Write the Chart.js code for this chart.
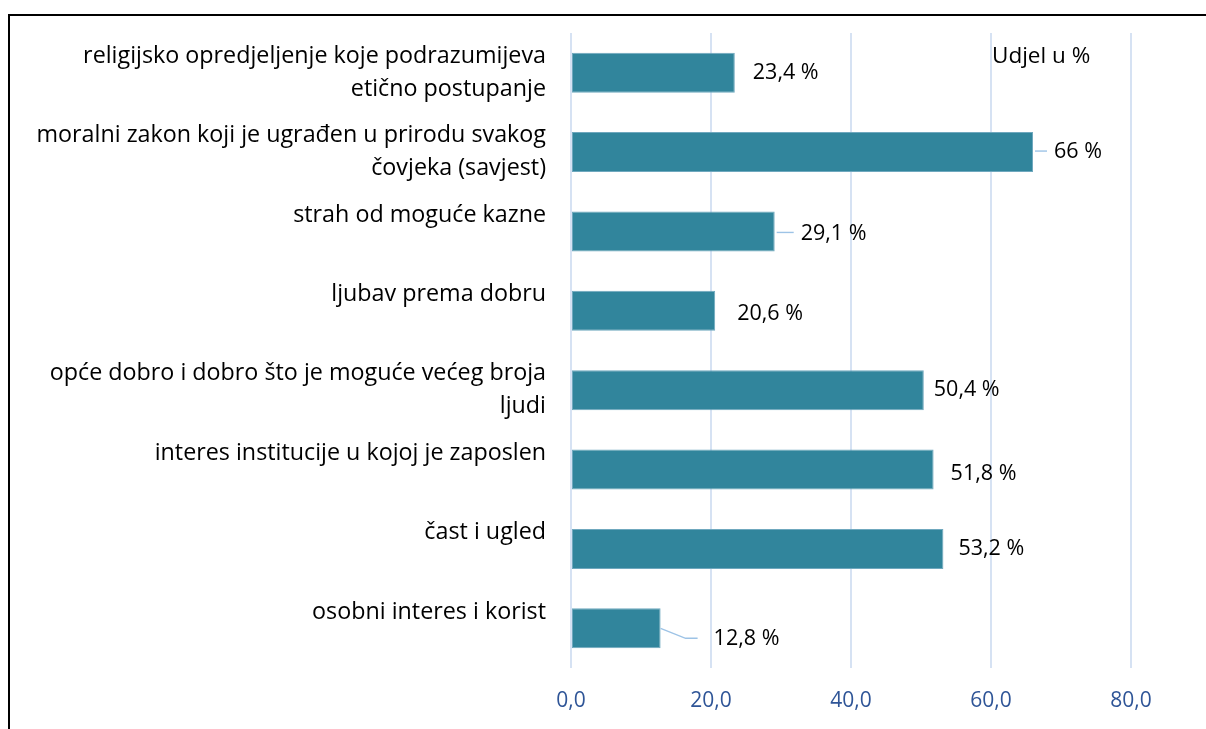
<!DOCTYPE html>
<html>
<head>
<meta charset="utf-8">
<script src="https://cdn.jsdelivr.net/npm/chart.js@4/dist/chart.umd.min.js"></script>
<style>
  html, body { margin: 0; padding: 0; background: #fff; }
  #wrap { position: relative; width: 1206px; height: 729px; overflow: hidden; }
  #frame { position: absolute; left: 8px; top: 14px; width: 1300px; height: 800px;
           border-top: 2px solid #000; border-left: 2px solid #000; box-sizing: border-box; pointer-events: none; }
  canvas { position: absolute; left: 0; top: 0; }
</style>
</head>
<body>
<div id="wrap">
  <canvas id="c" width="1206" height="729"></canvas>
  <div id="frame"></div>
</div>
<script>
// ---- data ----
const categories = [
  ["religijsko opredjeljenje koje podrazumijeva", "etično postupanje"],
  ["moralni zakon koji je ugrađen u prirodu svakog", "čovjeka (savjest)"],
  ["strah od moguće kazne", ""],
  ["ljubav prema dobru", ""],
  ["opće dobro i dobro što je moguće većeg broja", "ljudi"],
  ["interes institucije u kojoj je zaposlen", ""],
  ["čast i ugled", ""],
  ["osobni interes i korist", ""]
];
const values = [23.4, 66, 29.1, 20.6, 50.4, 51.8, 53.2, 12.8];
const valueLabels = ["23,4 %", "66 %", "29,1 %", "20,6 %", "50,4 %", "51,8 %", "53,2 %", "12,8 %"];
const xTicks = [0, 20, 40, 60, 80];
const seriesName = "Udjel u %";

// ---- label placement (style, not data) ----
const labelOffsets = [
  {dx: 18, dy: 0, leader: false},
  {dx: 21, dy: 0, leader: true},
  {dx: 26, dy: 2, leader: true},
  {dx: 22, dy: 3, leader: false},
  {dx: 10, dy: 0, leader: false},
  {dx: 17, dy: 4, leader: false},
  {dx: 15, dy: 0, leader: false},
  {dx: 53, dy: 11, leader: true}
];

const FONT = "'Open Sans', 'Noto Sans', sans-serif";

const dataLabelPlugin = {
  id: 'dataLabels',
  afterDatasetsDraw(chart) {
    const ctx = chart.ctx;
    const meta = chart.getDatasetMeta(0);
    ctx.save();
    ctx.font = "21.5px " + FONT;
    ctx.fillStyle = "#000";
    ctx.textBaseline = "middle";
    ctx.textAlign = "left";
    meta.data.forEach((bar, i) => {
      const o = labelOffsets[i];
      const x = bar.x + o.dx;
      const y = bar.y + o.dy;
      if (o.leader) {
        ctx.strokeStyle = "#9DC3E6";
        ctx.lineWidth = 1.4;
        ctx.beginPath();
        if (o.dy > 6) {
          ctx.moveTo(bar.x, bar.y);
          ctx.lineTo(bar.x + 25, y - 1);
          ctx.lineTo(x - 16, y - 1);
        } else {
          ctx.moveTo(bar.x + 2, y - 1);
          ctx.lineTo(x - 7, y - 1);
        }
        ctx.stroke();
      }
      ctx.fillText(valueLabels[i], x, y);
    });
    // series name
    const xs = chart.scales.x;
    ctx.font = "22.5px " + FONT;
    ctx.fillText(seriesName, xs.getPixelForValue(60) + 1, chart.chartArea.top + 24);
    ctx.restore();
  }
};

new Chart(document.getElementById('c'), {
  type: 'bar',
  data: {
    labels: categories,
    datasets: [{
      label: seriesName,
      data: values,
      backgroundColor: '#31859C',
      borderColor: '#6FA8BE',
      borderWidth: 1,
      borderSkipped: false,
      categoryPercentage: 1,
      barPercentage: 0.505
    }]
  },
  options: {
    indexAxis: 'y',
    responsive: false,
    animation: false,
    layout: { padding: { top: 33, right: 75, left: 0, bottom: 0 } },
    plugins: { legend: { display: false }, tooltip: { enabled: false } },
    scales: {
      x: {
        min: 0, max: 80,
        afterBuildTicks(scale) { scale.ticks = xTicks.map(v => ({ value: v })); },
        afterFit(scale) { scale.height = 61; scale.paddingLeft = 0; scale.paddingRight = 0; },
        grid: { color: '#D6E2F3', lineWidth: 2, drawTicks: false },
        border: { display: false },
        ticks: {
          padding: 20,
          color: '#2F5597',
          font: { family: FONT, size: 21 },
          callback: v => v.toFixed(1).replace('.', ',')
        }
      },
      y: {
        afterFit(scale) { scale.width = 571; scale.paddingTop = 0; scale.paddingBottom = 0; },
        grid: { display: false },
        border: { display: false },
        ticks: {
          padding: 17,
          color: '#000',
          font: { family: FONT, size: 23.3, lineHeight: 1.41 }
        }
      }
    }
  },
  plugins: [dataLabelPlugin]
});
</script>
</body>
</html>
